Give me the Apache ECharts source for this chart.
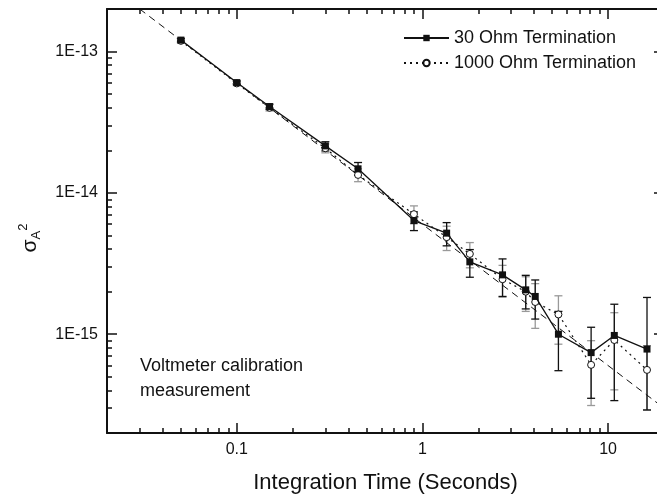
<!DOCTYPE html>
<html>
<head>
<meta charset="utf-8">
<script src="https://cdn.jsdelivr.net/npm/echarts@6.0.0/dist/echarts.min.js"></script>
<style>
  html, body { margin: 0; padding: 0; background: #fff; }
  #chart { width: 657px; height: 496px; }
</style>
</head>
<body>
<div id="chart"></div>
<script>
// integration time (s)
var times = [0.05, 0.1, 0.15, 0.3, 0.45, 0.9, 1.35, 1.8, 2.7, 3.6, 4.05, 5.4, 8.1, 10.8, 16.2];

// 30 Ohm termination, Allan variance + error bar ends
var ohm30 = [1.205e-13, 6.03e-14, 4.08e-14, 2.15e-14, 1.48e-14, 6.37e-15, 5.19e-15, 3.25e-15, 2.63e-15, 2.06e-15, 1.85e-15, 1.00e-15, 7.41e-16, 9.8e-16, 7.85e-16];
var ohm30Lo = [1.17e-13, 5.85e-14, 3.9e-14, 1.98e-14, 1.33e-14, 5.41e-15, 4.22e-15, 2.53e-15, 1.85e-15, 1.51e-15, 1.28e-15, 5.52e-16, 3.52e-16, 3.39e-16, 2.91e-16];
var ohm30Hi = [1.24e-13, 6.2e-14, 4.25e-14, 2.30e-14, 1.64e-14, 7.33e-15, 6.16e-15, 3.97e-15, 3.41e-15, 2.61e-15, 2.42e-15, 1.45e-15, 1.12e-15, 1.63e-15, 1.82e-15];

// 1000 Ohm termination
var ohm1000 = [1.19e-13, 5.95e-14, 4.0e-14, 2.07e-14, 1.34e-14, 7.07e-15, 4.86e-15, 3.70e-15, 2.45e-15, 2.0e-15, 1.69e-15, 1.38e-15, 6.07e-16, 9.1e-16, 5.59e-16];
var ohm1000Lo = [1.15e-13, 5.75e-14, 3.8e-14, 1.92e-14, 1.20e-14, 6.05e-15, 3.91e-15, 2.95e-15, 1.83e-15, 1.45e-15, 1.10e-15, 8.5e-16, 3.13e-16, 4.04e-16, 2.91e-16];
var ohm1000Hi = [1.23e-13, 6.15e-14, 4.2e-14, 2.22e-14, 1.48e-14, 8.09e-15, 5.81e-15, 4.45e-15, 3.07e-15, 2.55e-15, 2.28e-15, 1.87e-15, 9.0e-16, 1.42e-15, 8.3e-16];

// tau^-1 guide line (dashed)
var fitX = [0.03, 20];
var fitY = [2e-13, 3e-16];

// tick labels
var xMajor = [0.1, 1, 10];
var yMajor = [1e-15, 1e-14, 1e-13];

// minor ticks 2..9 of every decade
function minors(lo, hi) {
  var out = [];
  for (var d = Math.floor(Math.log10(lo)); d <= Math.ceil(Math.log10(hi)); d++) {
    for (var m = 2; m <= 9; m++) {
      var v = m * Math.pow(10, d);
      if (v > lo && v < hi) out.push(v);
    }
  }
  return out;
}
var xMinor = minors(0.02, 20);
var yMinor = minors(2e-16, 2e-13);

var font = 'Liberation Sans, Arial, sans-serif';

function pairs(xs, ys) {
  return xs.map(function (x, i) { return [x, ys[i]]; });
}
function errData(lo, hi) {
  return times.map(function (t, i) { return [t, lo[i], hi[i]]; });
}

// vertical error bar with small caps
function errBar(color) {
  return function (params, api) {
    var x = api.value(0);
    var lo = api.coord([x, api.value(1)]);
    var hi = api.coord([x, api.value(2)]);
    var w = 4;
    var st = { stroke: color, lineWidth: 1.3 };
    return {
      type: 'group',
      children: [
        { type: 'line', shape: { x1: hi[0], y1: hi[1], x2: lo[0], y2: lo[1] }, style: st },
        { type: 'line', shape: { x1: hi[0] - w, y1: hi[1], x2: hi[0] + w, y2: hi[1] }, style: st },
        { type: 'line', shape: { x1: lo[0] - w, y1: lo[1], x2: lo[0] + w, y2: lo[1] }, style: st }
      ]
    };
  };
}

function xAxisOf(pos, major, showLine) {
  return {
    type: 'log', logBase: 10, min: 0.02, max: 20, position: pos,
    axisLine: { show: showLine, lineStyle: { color: '#111', width: 2 } },
    axisTick: { show: true, inside: true, length: major ? 10 : 5, customValues: major ? xMajor : xMinor,
      lineStyle: { color: '#111', width: 1.5 } },
    axisLabel: { show: false },
    splitLine: { show: false }
  };
}
function yAxisOf(pos, major, showLine) {
  return {
    type: 'log', logBase: 10, min: 2e-16, max: 2e-13, position: pos,
    axisLine: { show: showLine, lineStyle: { color: '#111', width: 2 } },
    axisTick: { show: true, inside: true, length: major ? 10 : 5, customValues: major ? yMajor : yMinor,
      lineStyle: { color: '#111', width: 1.5 } },
    axisLabel: { show: false },
    splitLine: { show: false }
  };
}

var xMain = xAxisOf('bottom', true, true);
xMain.axisLabel = { show: true, customValues: xMajor, margin: 9, fontSize: 16, color: '#111', fontFamily: font };
xMain.name = 'Integration Time (Seconds)';
xMain.nameLocation = 'middle';
xMain.nameGap = 39;
xMain.nameTextStyle = { fontSize: 22, color: '#111', fontFamily: font };

var yMain = yAxisOf('left', true, true);
yMain.axisLabel = { show: true, customValues: yMajor, margin: 9, fontSize: 16, color: '#111', fontFamily: font,
  formatter: function (v) { return '1E' + Math.round(Math.log10(v)); } };

var chart = echarts.init(document.getElementById('chart'));
chart.setOption({
  animation: false,
  backgroundColor: '#fff',
  // plot runs a little past the right edge of the picture (x max = 20)
  grid: { left: 107, top: 9, width: 557, height: 424, outerBoundsMode: 'none' },
  xAxis: [xMain, xAxisOf('bottom', false, false), xAxisOf('top', true, true), xAxisOf('top', false, false)],
  yAxis: [yMain, yAxisOf('left', false, false), yAxisOf('right', true, true), yAxisOf('right', false, false)],
  legend: {
    data: ['30 Ohm Termination', '1000 Ohm Termination'],
    orient: 'vertical',
    left: 398, top: 24,
    itemWidth: 45, itemHeight: 8, itemGap: 7,
    textStyle: { fontSize: 18, color: '#111', fontFamily: font }
  },
  graphic: [
    { // sigma_A^2 axis title
      type: 'text', x: 30, y: 238, rotation: Math.PI / 2,
      style: {
        text: '{s|σ}{a|A}{b|2}', align: 'center', verticalAlign: 'middle',
        rich: {
          s: { fontSize: 21, fontFamily: font, fill: '#111', lineHeight: 26 },
          a: { fontSize: 13, fontFamily: font, fill: '#111', verticalAlign: 'bottom', lineHeight: 26 },
          b: { fontSize: 13, fontFamily: font, fill: '#111', verticalAlign: 'top', lineHeight: 26 }
        }
      }
    },
    {
      type: 'text', left: 140, top: 353,
      style: { text: 'Voltmeter calibration\nmeasurement', fontSize: 18, lineHeight: 25.5, fontFamily: font, fill: '#111' }
    }
  ],
  series: [
    {
      name: 'err1000', type: 'custom', z: 2,
      renderItem: errBar('#999'), encode: { x: 0, y: [1, 2] },
      data: errData(ohm1000Lo, ohm1000Hi)
    },
    {
      name: 'err30', type: 'custom', z: 2,
      renderItem: errBar('#111'), encode: { x: 0, y: [1, 2] },
      data: errData(ohm30Lo, ohm30Hi)
    },
    {
      name: 'fit', type: 'line', z: 3, symbol: 'none', silent: true,
      lineStyle: { color: '#111', width: 1, type: [7, 5] },
      data: pairs(fitX, fitY)
    },
    {
      name: '1000 Ohm Termination', type: 'line', z: 4,
      symbol: 'circle', symbolSize: 7,
      itemStyle: { color: '#fff', borderColor: '#111', borderWidth: 1 },
      lineStyle: { color: '#111', width: 1.2, type: [2, 4] },
      data: pairs(times, ohm1000)
    },
    {
      name: '30 Ohm Termination', type: 'line', z: 5,
      symbol: 'rect', symbolSize: 7,
      itemStyle: { color: '#111' },
      lineStyle: { color: '#111', width: 1.3 },
      data: pairs(times, ohm30)
    }
  ]
});
</script>
</body>
</html>
